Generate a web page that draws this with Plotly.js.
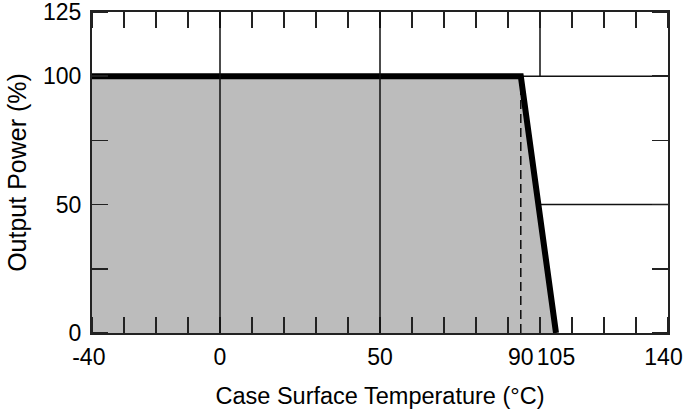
<!DOCTYPE html>
<html>
<head>
<meta charset="utf-8">
<script src="https://cdn.plot.ly/plotly-3.0.1.min.js"></script>
<style>html,body{margin:0;padding:0;background:#fff;}#chart{width:684px;height:413px;}</style>
</head>
<body>
<div id="chart"></div>
<script>
// Derating curve (as drawn): full power up to the knee, linear fall to zero
var tempC = [-40, 94, 105];
var powerPct = [100, 100, 0];
// Knee marker (dashed)
var kneeX = [94, 94];
var kneeY = [0, 100];
// Tick labels (placed where the reference prints them)
var xTickVals = [-40, 0, 50, 94, 105, 138.6];
var xTickText = ["-40\u00a0", "0", "50", "90", "105", "140"];
var yTickVals = [0, 50, 100, 125];
var yTickText = ["0", "50", "100", "125"];
// Grid lines
var xGridFull = [0, 50];
var xGridTop = [100];
var yGrid = [50, 100];

var fillX = [tempC[0]].concat(tempC).concat([tempC[0]]);
var fillY = [0].concat(powerPct).concat([0]);

var traces = [
  {x: fillX, y: fillY, mode: 'lines', fill: 'toself', fillcolor: '#bcbcbc',
   line: {width: 0, color: 'rgba(0,0,0,0)'}, hoverinfo: 'skip', showlegend: false},
  {x: kneeX, y: kneeY, mode: 'lines', line: {color: '#000', width: 1.4, dash: '9px,5px'},
   showlegend: false},
  {x: tempC, y: powerPct, mode: 'lines', line: {color: '#000', width: 6}, showlegend: false}
];

var shapes = [];
xGridFull.forEach(function (v) {
  shapes.push({type: 'line', xref: 'x', yref: 'y', x0: v, x1: v, y0: 0, y1: 125,
    line: {color: '#111', width: 1.5}, layer: 'above'});
});
xGridTop.forEach(function (v) {
  shapes.push({type: 'line', xref: 'x', yref: 'y', x0: v, x1: v, y0: 100, y1: 125,
    line: {color: '#111', width: 1.5}, layer: 'below'});
});
yGrid.forEach(function (v) {
  shapes.push({type: 'line', xref: 'x', yref: 'y', x0: -40, x1: 140, y0: v, y1: v,
    line: {color: '#111', width: 1.5}, layer: 'below'});
});

var fam = 'Liberation Sans, Arial, sans-serif';
var fs = 23;

var layout = {
  width: 684, height: 413,
  margin: {l: 92, r: 16, t: 12, b: 80},
  paper_bgcolor: '#fff', plot_bgcolor: '#fff',
  showlegend: false,
  font: {family: fam, color: '#000'},
  xaxis: {
    range: [-40, 140], showgrid: false, zeroline: false,
    showline: true, linecolor: '#222', linewidth: 2, mirror: 'ticks',
    tickmode: 'array', tickvals: xTickVals, ticktext: xTickText, ticks: '',
    ticklabeloverflow: 'allow', ticklabelstandoff: 2,
    tickfont: {family: fam, size: fs, color: '#000'},
    minor: {dtick: 10, tick0: -40, ticks: 'inside', ticklen: 16, tickwidth: 1.5, tickcolor: '#222', showgrid: false},
    title: {text: 'Case Surface Temperature (°C)', font: {family: fam, size: 23.5, color: '#000'}, standoff: 19}
  },
  yaxis: {
    range: [0, 125], showgrid: false, zeroline: false,
    showline: true, linecolor: '#222', linewidth: 2, mirror: 'ticks',
    tickmode: 'array', tickvals: yTickVals, ticktext: yTickText, ticks: '',
    ticklabeloverflow: 'allow', ticklabelstandoff: 4,
    tickfont: {family: fam, size: fs, color: '#000'},
    minor: {dtick: 25, tick0: 0, ticks: 'inside', ticklen: 16, tickwidth: 1.5, tickcolor: '#222', showgrid: false},
    title: {text: 'Output Power (%)', font: {family: fam, size: 25, color: '#000'}, standoff: 9}
  },
  shapes: shapes
};

Plotly.newPlot('chart', traces, layout, {displayModeBar: false, staticPlot: true});
</script>
</body>
</html>
